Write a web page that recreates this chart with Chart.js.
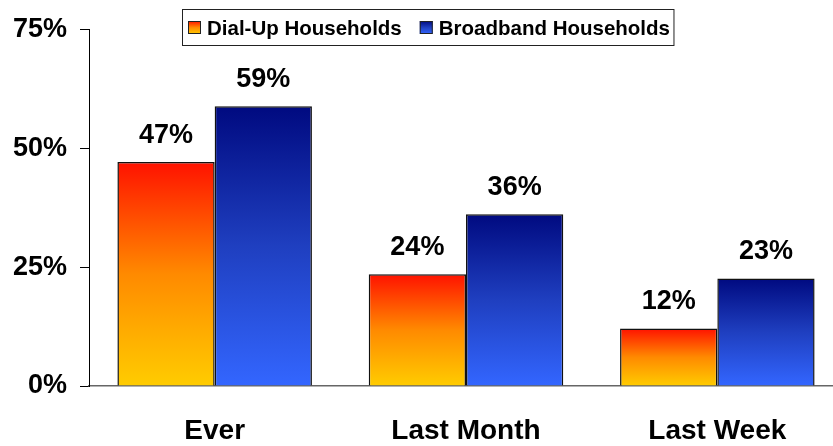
<!DOCTYPE html>
<html>
<head>
<meta charset="utf-8">
<script src="https://cdn.jsdelivr.net/npm/chart.js@4"></script>
<style>
  html, body { margin: 0; padding: 0; background: #fff; overflow: hidden; }
</style>
</head>
<body>
<canvas id="chart" width="860" height="446"></canvas>
<script>
// data
var categories = ['Ever', 'Last Month', 'Last Week'];
var dialUp = [47.1, 23.5, 12.1];
var broadband = [58.8, 36.1, 22.6];
var yTicks = [0, 25, 50, 75];

var FONT = "'Liberation Sans', Arial, Helvetica, sans-serif";

var dialStops = ['#ff1200', '#ff8a00', '#ffcc00'];
var bandStops = ['#000a80', '#1f3fc0', '#3366ff'];

function makeGrad(c, top, bottom, stops) {
  var g = c.createLinearGradient(0, top, 0, bottom);
  g.addColorStop(0, stops[0]);
  g.addColorStop(0.5, stops[1]);
  g.addColorStop(1, stops[2]);
  return g;
}

function barFill(stops) {
  return function (ctx) {
    var chart = ctx.chart;
    if (!chart.chartArea || ctx.type !== 'data') return stops[1];
    var y = chart.scales.y;
    return makeGrad(chart.ctx, y.getPixelForValue(ctx.raw), y.getPixelForValue(0), stops);
  };
}

// value labels above each bar
var valueLabels = {
  id: 'valueLabels',
  afterDatasetsDraw: function (chart) {
    var c = chart.ctx;
    c.save();
    c.font = 'bold 27px ' + FONT;
    c.fillStyle = '#000';
    c.textAlign = 'center';
    c.textBaseline = 'alphabetic';
    chart.data.datasets.forEach(function (ds, i) {
      chart.getDatasetMeta(i).data.forEach(function (bar, j) {
        c.fillText(Math.round(ds.data[j]) + '%', bar.x, bar.y - 19);
      });
    });
    c.restore();
  }
};

// boxed legend sitting over the plot
var boxLegend = {
  id: 'boxLegend',
  afterDraw: function (chart) {
    var c = chart.ctx;
    c.save();
    c.font = 'bold 20.5px ' + FONT;
    var x = 188, top = 21, sq = 13, baseline = 35;
    var items = [];
    chart.data.datasets.forEach(function (ds) {
      var w = c.measureText(ds.label).width;
      items.push({ label: ds.label, stops: ds.legendStops, x: x, w: w });
      x += sq + 6 + w + 18;
    });
    var right = x - 18 + 4;
    c.fillStyle = '#fff';
    c.fillRect(182.5, 9.5, right - 182.5, 36);
    c.strokeStyle = '#222';
    c.lineWidth = 1;
    c.strokeRect(182.5, 9.5, right - 182.5, 36);
    items.forEach(function (it) {
      c.fillStyle = makeGrad(c, top, top + sq, it.stops);
      c.fillRect(it.x, top, sq, sq);
      c.strokeStyle = '#222';
      c.strokeRect(it.x + 0.5, top + 0.5, sq - 1, sq - 1);
      c.fillStyle = '#000';
      c.textBaseline = 'alphabetic';
      c.textAlign = 'left';
      c.fillText(it.label, it.x + sq + 6, baseline);
    });
    c.restore();
  }
};

var ctx = document.getElementById('chart').getContext('2d');
var chart = new Chart(ctx, {
  type: 'bar',
  data: {
    labels: categories,
    datasets: [{
      label: 'Dial-Up Households',
      data: dialUp,
      backgroundColor: barFill(dialStops),
      legendStops: dialStops,
      borderColor: '#111',
      borderWidth: 1.5,
      categoryPercentage: 0.774,
      barPercentage: 1.0
    }, {
      label: 'Broadband Households',
      data: broadband,
      backgroundColor: barFill(bandStops),
      legendStops: bandStops,
      borderColor: '#111',
      borderWidth: 1.5,
      categoryPercentage: 0.774,
      barPercentage: 1.0
    }]
  },
  options: {
    responsive: false,
    animation: false,
    layout: { padding: { top: 25, right: 17, left: 0, bottom: 0 } },
    plugins: {
      legend: { display: false },
      tooltip: { enabled: false }
    },
    scales: {
      x: {
        grid: { display: true, drawOnChartArea: false, drawTicks: false },
        border: { display: true, color: '#666', width: 1.5 },
        ticks: {
          color: '#000',
          font: { family: FONT, size: 28, weight: 'bold' },
          padding: 28
        },
        afterFit: function (scale) { scale.height = 60; }
      },
      y: {
        min: 0,
        max: 75,
        afterBuildTicks: function (scale) {
          scale.ticks = yTicks.map(function (v) { return { value: v }; });
        },
        grid: { display: true, drawOnChartArea: false, drawTicks: true, tickLength: 9, color: '#000', lineWidth: 1 },
        border: { display: true, color: '#000', width: 1 },
        ticks: {
          color: '#000',
          font: { family: FONT, size: 27, weight: 'bold' },
          padding: 13,
          callback: function (v) { return v + '%'; }
        },
        afterFit: function (scale) { scale.width = 89; }
      }
    }
  },
  plugins: [valueLabels, boxLegend]
});
</script>
</body>
</html>
